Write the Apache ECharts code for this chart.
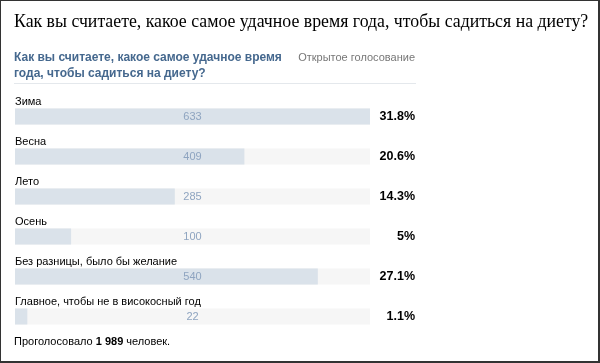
<!DOCTYPE html>
<html><head><meta charset="utf-8">
<script src="https://cdn.jsdelivr.net/npm/echarts@6/dist/echarts.min.js"></script>
<style>
html,body{margin:0;padding:0;background:#fff;}
#wrap{position:relative;width:600px;height:363px;}
#c{position:absolute;left:0;top:0;width:600px;height:363px;}
#frame{position:absolute;left:0;top:0;width:600px;height:363px;box-sizing:border-box;border-style:solid;border-color:#333;border-width:1px 2px 2px 1px;pointer-events:none;}
</style></head><body>
<div id="wrap"><div id="c"></div><div id="frame"></div></div>
<script>
const categories = ['Зима','Весна','Лето','Осень','Без разницы, было бы желание','Главное, чтобы не в високосный год'];
const votes = [633, 409, 285, 100, 540, 22];
const percents = ['31.8%','20.6%','14.3%','5%','27.1%','1.1%'];
const totalVotes = '1 989';
const maxVotes = 633;

const chart = echarts.init(document.getElementById('c'), null, {renderer:'canvas'});
const FONT = 'Liberation Sans';
chart.setOption({
  animation:false,
  title:[
    {text:'Как вы считаете, какое самое удачное время года, чтобы садиться на диету?', left:9, top:8,
     textStyle:{fontFamily:'Liberation Serif', fontSize:17.8, fontWeight:'normal', color:'#000'}},
    {text:'Как вы считаете, какое самое удачное время\nгода, чтобы садиться на диету?', left:9, top:45,
     textStyle:{fontFamily:FONT, fontSize:12, fontWeight:'bold', color:'#45688e', lineHeight:16}},
    {text:'Открытое голосование', right:180, top:47,
     textStyle:{fontFamily:FONT, fontSize:11, fontWeight:'normal', color:'#777'}},
    {text:'Проголосовало {b|'+totalVotes+'} человек.', left:9, top:331,
     textStyle:{fontFamily:FONT, fontSize:11, fontWeight:'normal', color:'#000',
       rich:{b:{fontFamily:FONT, fontSize:11, fontWeight:'bold', color:'#000'}}}}
  ],
  graphic:[{type:'line', shape:{x1:14,y1:83.5,x2:416,y2:83.5}, style:{stroke:'#e4e8ec', lineWidth:1}}],
  grid:{left:15, right:230, top:96.5, bottom:26.5},
  xAxis:{type:'value', min:0, max:maxVotes, show:false},
  yAxis:[
    {type:'category', data:categories, inverse:true, axisLine:{show:false}, axisTick:{show:false},
     axisLabel:{inside:true, margin:0, align:'left', verticalAlign:'bottom', padding:[0,0,9,0],
       fontFamily:FONT, fontSize:11, color:'#000'}},
    {type:'category', data:percents, inverse:true, position:'right', axisLine:{show:false}, axisTick:{show:false},
     axisLabel:{margin:45, align:'right', fontFamily:FONT, fontSize:12.5, fontWeight:'bold', color:'#000'}}
  ],
  series:[
    {type:'bar', data:votes, barWidth:16, barGap:'-100%', itemStyle:{color:'#dae2ea'},
     showBackground:true, backgroundStyle:{color:'#f6f6f6'}, silent:true},
    {type:'bar', data:votes.map(()=>maxVotes), barWidth:16, itemStyle:{color:'rgba(0,0,0,0)'}, silent:true,
     label:{show:true, position:'inside', formatter:p=>votes[p.dataIndex], fontFamily:FONT, fontSize:11, color:'#8ea4c0'}}
  ]
});
</script></body></html>
